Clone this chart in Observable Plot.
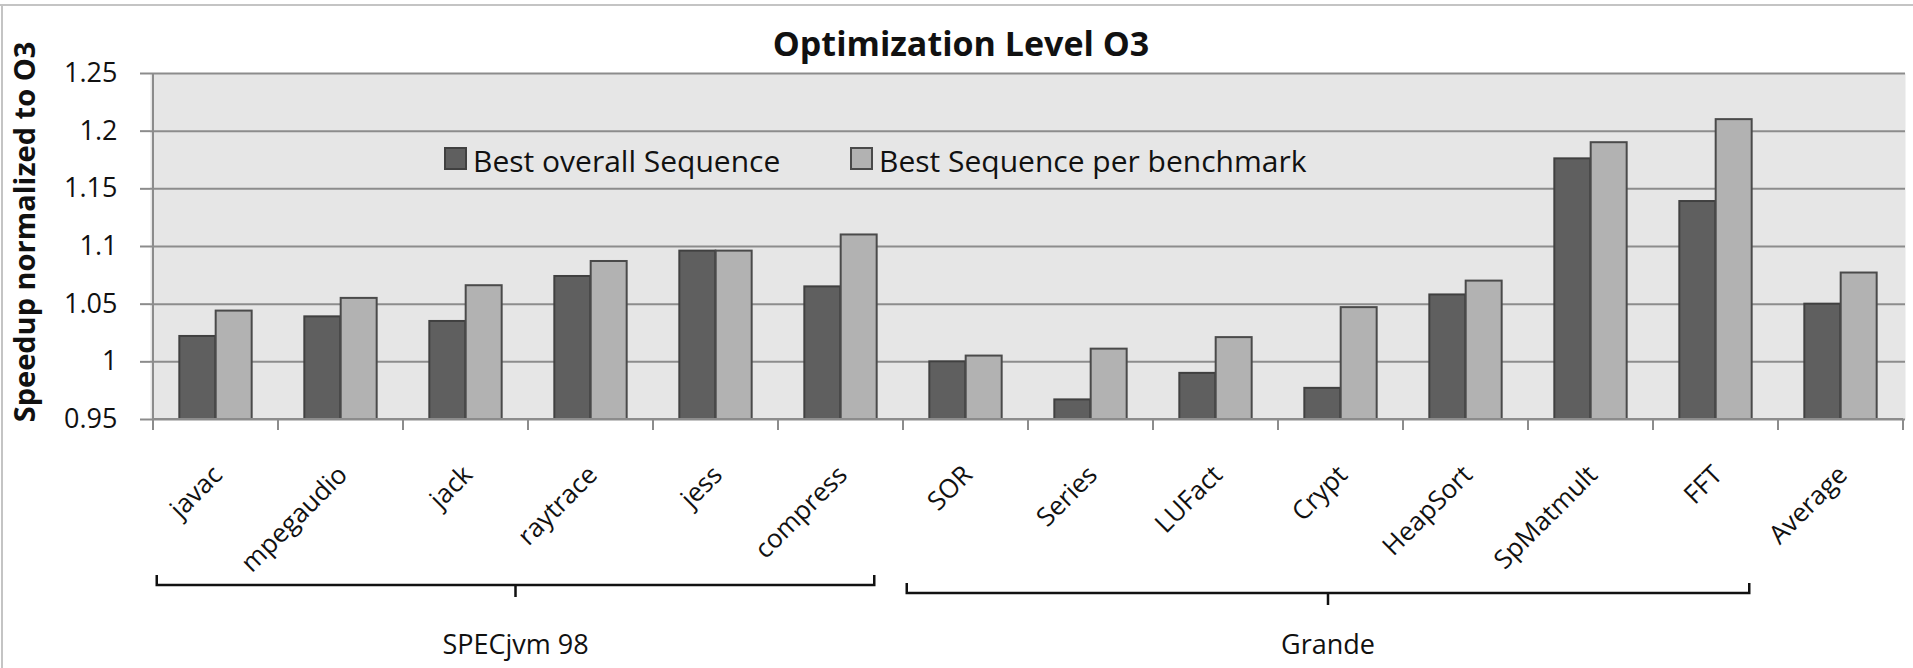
<!DOCTYPE html>
<html>
<head>
<meta charset="utf-8">
<script src="https://cdn.jsdelivr.net/npm/d3@7"></script>
<script src="https://cdn.jsdelivr.net/npm/@observablehq/plot@0.6"></script>
<style>
html, body { margin: 0; padding: 0; background: #fff; }
#wrap { position: relative; width: 1913px; height: 668px; overflow: hidden; }
#wrap svg { display: block; }
</style>
</head>
<body>
<div id="wrap"></div>
<script>
// ---- data ----
const categories = ["javac", "mpegaudio", "jack", "raytrace", "jess", "compress",
  "SOR", "Series", "LUFact", "Crypt", "HeapSort", "SpMatmult", "FFT", "Average"];
const bestOverall = [1.022, 1.039, 1.035, 1.074, 1.096, 1.065,
  1.000, 0.967, 0.990, 0.977, 1.058, 1.176, 1.139, 1.050];
const bestPerBenchmark = [1.044, 1.055, 1.066, 1.087, 1.096, 1.110,
  1.005, 1.011, 1.021, 1.047, 1.070, 1.190, 1.210, 1.077];
const seriesNames = ["Best overall Sequence", "Best Sequence per benchmark"];
const yTicks = [0.95, 1, 1.05, 1.1, 1.15, 1.2, 1.25];
const yTickLabels = ["0.95", "1", "1.05", "1.1", "1.15", "1.2", "1.25"];
const groupLabels = ["SPECjvm 98", "Grande"];
const groupFrom = ["javac", "SOR"];
const groupTo = ["compress", "FFT"];
const chartTitle = "Optimization Level O3";
const yTitle = "Speedup normalized to O3";

// ---- layout / style ----
const W = 1913, H = 668;
const ML = 150, MR = 8, MT = 73, MB = 249;
const bw = (W - ML - MR) / categories.length;
const FONT = "'Open Sans', sans-serif";
const colors = ["#5f5f5f", "#b2b2b2"];
const strokes = ["#404040", "#4a4a4a"];
const gridColor = "#8c8c8c";
const bgColor = "#e6e6e6";

const data = categories.flatMap((c, i) => [
  {c, s: 0, v: bestOverall[i]},
  {c, s: 1, v: bestPerBenchmark[i]}
]);

function decorations(index, scales) {
  const x = scales.x, y = scales.y;
  const bwid = x.bandwidth ? x.bandwidth() : bw;
  const y0 = y(yTicks[0]);
  const yTop = y(yTicks[yTicks.length - 1]);
  const xL = x(categories[0]);
  const xR = x(categories[categories.length - 1]) + bwid;
  const g = d3.create("svg:g").attr("text-anchor", "start");

  // axis lines
  g.append("line").attr("x1", xL).attr("x2", xL).attr("y1", yTop).attr("y2", y0)
    .attr("stroke", gridColor).attr("stroke-width", 2);
  g.append("line").attr("x1", xL).attr("x2", xR).attr("y1", y0).attr("y2", y0)
    .attr("stroke", gridColor).attr("stroke-width", 2);
  // category boundary ticks
  const bounds = categories.map(c => x(c)).concat([xR]);
  g.selectAll(null).data(bounds).join("line")
    .attr("x1", d => d).attr("x2", d => d).attr("y1", y0).attr("y2", y0 + 11)
    .attr("stroke", gridColor).attr("stroke-width", 2);

  // group brackets
  const drops = [166, 174];
  groupLabels.forEach((lab, k) => {
    const a = x(groupFrom[k]) + 0.03 * bwid;
    const b = x(groupTo[k]) + 0.77 * bwid;
    const m = (a + b) / 2;
    const by = y0 + drops[k];
    g.append("path")
      .attr("d", `M${a},${by - 10}V${by}H${b}V${by - 10}M${m},${by}V${by + 12}`)
      .attr("fill", "none").attr("stroke", "#111").attr("stroke-width", 2.5);
    g.append("text").attr("x", m).attr("y", y0 + 235)
      .attr("text-anchor", "middle").attr("font-size", 27).attr("fill", "#111")
      .text(lab);
  });

  // legend
  const lx = [445, 851];
  seriesNames.forEach((name, k) => {
    g.append("rect").attr("x", lx[k]).attr("y", 148).attr("width", 21).attr("height", 21)
      .attr("fill", colors[k]).attr("stroke", strokes[k]).attr("stroke-width", 2);
    g.append("text").attr("x", lx[k] + 28).attr("y", 172).attr("text-anchor", "start")
      .attr("font-size", 30).attr("fill", "#111").text(name);
  });

  // title
  g.append("text").attr("x", 961).attr("y", 56).attr("text-anchor", "middle")
    .attr("font-size", 34).attr("font-weight", "bold").attr("fill", "#111").text(chartTitle);

  // y axis title
  g.append("text").attr("transform", `translate(35,${(yTop + y0) / 2 - 14}) rotate(-90)`)
    .attr("text-anchor", "middle").attr("font-size", 29).attr("font-weight", "bold")
    .attr("fill", "#111").text(yTitle);

  // chart border
  g.append("line").attr("x1", 0).attr("x2", W).attr("y1", 5).attr("y2", 5)
    .attr("stroke", "#c4c4c4").attr("stroke-width", 2);
  g.append("line").attr("x1", 2).attr("x2", 2).attr("y1", 5).attr("y2", H)
    .attr("stroke", "#c4c4c4").attr("stroke-width", 2);
  return g.node();
}

const chart = Plot.plot({
  width: W, height: H,
  marginLeft: ML, marginRight: MR, marginTop: MT, marginBottom: MB,
  style: {fontFamily: FONT, background: "#fff", color: "#111", overflow: "visible"},
  x: {type: "band", domain: categories, padding: 0, axis: null},
  y: {domain: [yTicks[0], yTicks[yTicks.length - 1]], axis: null},
  marks: [
    Plot.frame({fill: bgColor, stroke: null}),
    Plot.ruleY(yTicks, {stroke: gridColor, strokeWidth: 2}),
    Plot.barY(data.filter(d => d.s === 0), {
      x: "c", y1: yTicks[0], y2: "v", fill: colors[0], stroke: strokes[0], strokeWidth: 2,
      insetLeft: 0.21 * bw, insetRight: 0.5 * bw
    }),
    Plot.barY(data.filter(d => d.s === 1), {
      x: "c", y1: yTicks[0], y2: "v", fill: colors[1], stroke: strokes[1], strokeWidth: 2,
      insetLeft: 0.5 * bw, insetRight: 0.21 * bw
    }),
    Plot.axisY(yTicks, {
      tickSize: 10, tickPadding: 23, stroke: gridColor, strokeWidth: 2,
      tickFormat: d => yTickLabels[yTicks.indexOf(d)], fontSize: 27, fill: "#111", label: null
    }),
    Plot.text(categories, {
      x: d => d, frameAnchor: "bottom", dx: 2, dy: 51, rotate: -45,
      textAnchor: "end", lineAnchor: "middle", fontSize: 26, fill: "#111"
    }),
    decorations
  ]
});
document.getElementById("wrap").appendChild(chart);
</script>
</body>
</html>
